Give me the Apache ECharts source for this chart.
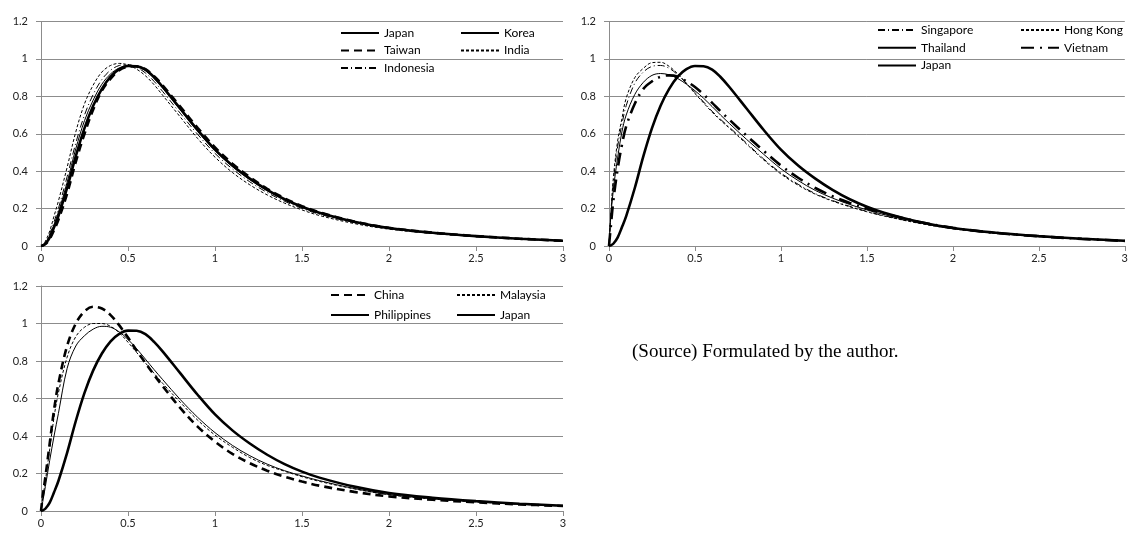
<!DOCTYPE html>
<html>
<head>
<meta charset="utf-8">
<script src="https://cdn.jsdelivr.net/npm/echarts@6/dist/echarts.min.js"></script>
<style>
html,body{margin:0;padding:0;background:#fff;}
#main{width:1131px;height:534px;}
</style>
</head>
<body>
<div id="main"></div>
<script>
// x grid shared by every curve (income relative to mean)
const xs = [0, 0.01, 0.025, 0.05, 0.075, 0.1, 0.15, 0.2, 0.25, 0.3, 0.35, 0.4, 0.45, 0.5, 0.55, 0.6, 0.65,
            0.7, 0.8, 0.9, 1.0, 1.1, 1.2, 1.3, 1.4, 1.5, 1.6, 1.8, 2.0, 2.25, 2.5, 2.75, 3.0];
const xTicks = [0, 0.5, 1, 1.5, 2, 2.5, 3];
const yTicks = [0, 0.2, 0.4, 0.6, 0.8, 1, 1.2];

// density values
const japan     = [0, 0.003, 0.012, 0.045, 0.10, 0.16, 0.31, 0.48, 0.63, 0.75, 0.84, 0.905, 0.945, 0.962, 0.961, 0.943, 0.902,
                   0.85, 0.735, 0.62, 0.515, 0.43, 0.36, 0.3, 0.25, 0.21, 0.178, 0.13, 0.096, 0.071, 0.053, 0.039, 0.028];
const korea     = [0, 0.004, 0.015, 0.055, 0.115, 0.18, 0.34, 0.52, 0.67, 0.78, 0.865, 0.92, 0.952, 0.965, 0.958, 0.938, 0.896,
                   0.843, 0.728, 0.613, 0.51, 0.425, 0.355, 0.296, 0.247, 0.207, 0.175, 0.128, 0.095, 0.07, 0.052, 0.038, 0.027];
const taiwan    = [0, 0.002, 0.01, 0.038, 0.085, 0.14, 0.28, 0.45, 0.6, 0.73, 0.83, 0.895, 0.94, 0.958, 0.96, 0.945, 0.907,
                   0.858, 0.745, 0.632, 0.527, 0.44, 0.368, 0.306, 0.255, 0.213, 0.18, 0.131, 0.097, 0.071, 0.053, 0.039, 0.028];
const india     = [0, 0.006, 0.025, 0.08, 0.16, 0.24, 0.42, 0.61, 0.76, 0.86, 0.93, 0.965, 0.976, 0.968, 0.945, 0.91, 0.862,
                   0.805, 0.69, 0.575, 0.475, 0.393, 0.327, 0.273, 0.229, 0.193, 0.163, 0.12, 0.09, 0.067, 0.05, 0.037, 0.027];
const indonesia = [0, 0.005, 0.02, 0.065, 0.13, 0.2, 0.37, 0.55, 0.7, 0.81, 0.89, 0.94, 0.965, 0.97, 0.955, 0.925, 0.88,
                   0.825, 0.71, 0.597, 0.495, 0.412, 0.343, 0.286, 0.239, 0.201, 0.17, 0.125, 0.093, 0.069, 0.051, 0.038, 0.027];

const singapore = [0, 0.15, 0.34, 0.53, 0.65, 0.75, 0.87, 0.93, 0.96, 0.965, 0.95, 0.915, 0.87, 0.82, 0.77, 0.72, 0.676,
                   0.635, 0.55, 0.465, 0.39, 0.33, 0.28, 0.243, 0.212, 0.185, 0.162, 0.123, 0.093, 0.068, 0.05, 0.037, 0.027];
const hongKong  = [0, 0.16, 0.36, 0.56, 0.68, 0.79, 0.9, 0.95, 0.98, 0.982, 0.96, 0.92, 0.87, 0.815, 0.765, 0.715, 0.671,
                   0.63, 0.545, 0.46, 0.385, 0.325, 0.277, 0.24, 0.21, 0.183, 0.16, 0.122, 0.092, 0.068, 0.05, 0.037, 0.027];
const thailand  = [0, 0.15, 0.3, 0.47, 0.61, 0.7, 0.81, 0.875, 0.912, 0.922, 0.915, 0.895, 0.865, 0.83, 0.79, 0.745, 0.699,
                   0.655, 0.57, 0.49, 0.413, 0.35, 0.297, 0.256, 0.222, 0.193, 0.168, 0.127, 0.095, 0.069, 0.051, 0.037, 0.027];
const vietnam   = [0, 0.1, 0.24, 0.41, 0.54, 0.64, 0.76, 0.84, 0.88, 0.905, 0.912, 0.905, 0.88, 0.85, 0.81, 0.765, 0.719,
                   0.675, 0.59, 0.508, 0.43, 0.365, 0.31, 0.266, 0.23, 0.2, 0.174, 0.13, 0.097, 0.07, 0.052, 0.038, 0.027];

const china       = [0, 0.08, 0.18, 0.36, 0.54, 0.68, 0.88, 1.0, 1.065, 1.089, 1.08, 1.045, 0.99, 0.925, 0.855, 0.79, 0.726,
                     0.665, 0.55, 0.45, 0.37, 0.305, 0.255, 0.215, 0.183, 0.157, 0.135, 0.102, 0.078, 0.06, 0.046, 0.035, 0.027];
const malaysia    = [0, 0.07, 0.16, 0.33, 0.5, 0.63, 0.82, 0.93, 0.98, 1.0, 1.0, 0.985, 0.95, 0.9, 0.845, 0.79, 0.734,
                     0.68, 0.58, 0.485, 0.405, 0.34, 0.285, 0.243, 0.212, 0.183, 0.158, 0.118, 0.087, 0.064, 0.048, 0.036, 0.027];
const philippines = [0, 0.05, 0.13, 0.27, 0.4, 0.52, 0.76, 0.88, 0.935, 0.97, 0.985, 0.98, 0.955, 0.915, 0.865, 0.81, 0.754,
                     0.7, 0.595, 0.5, 0.418, 0.35, 0.295, 0.25, 0.215, 0.187, 0.162, 0.12, 0.088, 0.065, 0.049, 0.036, 0.027];

const gridColor = '#8c8c8c';
const labelFont = 'Lato';

function pairs(ys) {
    return xs.map((x, i) => [x, ys[i]]);
}

// thick / thin and dash patterns like the Excel original
const styles = {
    solidThick: { width: 2.6, type: 'solid' },
    solidThin: { width: 1, type: 'solid' },
    dashThick: { width: 2.6, type: [8, 5] },
    dashThin: { width: 1, type: [3, 2] },
    dashDotThin: { width: 1, type: [7, 3, 1, 3] },
    longDashDot: { width: 2.6, type: [13, 6, 2, 6] },
};

function line(name, ys, idx, st) {
    return {
        name: name,
        type: 'line',
        xAxisIndex: idx,
        yAxisIndex: idx,
        data: pairs(ys),
        symbol: 'none',
        showSymbol: false,
        smooth: 0.35,
        silent: true,
        lineStyle: { color: '#000', width: st.width, type: st.type },
        itemStyle: { color: '#000' },
    };
}

let grids = [
    { left: 41, top: 21.5, width: 522, height: 224.5 },
    { left: 609, top: 21.5, width: 520, height: 224.5 },
    { left: 41, top: 286, width: 522, height: 225 },
];

let xAxes = [], yAxes = [];
for (let i = 0; i < 3; i++) {
    xAxes.push({
        type: 'value', gridIndex: i,
        min: xTicks[0], max: xTicks[xTicks.length - 1], interval: 0.5,
        axisLine: { show: true, lineStyle: { color: gridColor } },
        axisTick: { show: true, length: 5, lineStyle: { color: gridColor } },
        axisLabel: { color: '#222', fontFamily: labelFont, fontSize: 11, margin: 7 },
        splitLine: { show: false },
    });
    yAxes.push({
        type: 'value', gridIndex: i,
        min: yTicks[0], max: yTicks[yTicks.length - 1], interval: 0.2,
        axisLine: { show: true, lineStyle: { color: gridColor } },
        axisTick: { show: true, length: 5, lineStyle: { color: gridColor } },
        axisLabel: { color: '#222', fontFamily: labelFont, fontSize: 11, margin: 13 },
        splitLine: { show: true, lineStyle: { color: gridColor, width: 1 } },
    });
}

let series = [
    line('Japan', japan, 0, styles.solidThick),
    line('Korea', korea, 0, styles.solidThin),
    line('Taiwan', taiwan, 0, styles.dashThick),
    line('India', india, 0, styles.dashThin),
    line('Indonesia', indonesia, 0, styles.dashDotThin),

    line('Singapore', singapore, 1, styles.dashDotThin),
    line('Hong Kong', hongKong, 1, styles.dashThin),
    line('Thailand', thailand, 1, styles.solidThin),
    line('Vietnam', vietnam, 1, styles.longDashDot),
    line('Japan', japan, 1, styles.solidThick),

    line('China', china, 2, styles.dashThick),
    line('Malaysia', malaysia, 2, styles.dashThin),
    line('Philippines', philippines, 2, styles.solidThin),
    line('Japan', japan, 2, styles.solidThick),
];

function legendCol(names, left, top, gap) {
    return {
        orient: 'vertical', left: left, top: top,
        padding: 0, itemWidth: 38, itemHeight: 12, itemGap: gap,
        selectedMode: false,
        itemStyle: { opacity: 0 }, // hide the circle, keep only the line
        textStyle: { fontFamily: labelFont, fontSize: 12, color: '#000', lineHeight: 14 },
        data: names,
    };
}

let option = {
    animation: false,
    backgroundColor: '#fff',
    grid: grids,
    xAxis: xAxes,
    yAxis: yAxes,
    legend: [
        legendCol(['Japan', 'Taiwan', 'Indonesia'], 340, 26, 3.5),
        legendCol(['Korea', 'India'], 460, 26, 3.5),
        legendCol(['Singapore', 'Thailand', 'Japan'], 877, 23, 3.8),
        legendCol(['Hong Kong', 'Vietnam'], 1020, 23, 3.8),
        legendCol(['China', 'Philippines'], 330, 288, 6),
        legendCol(['Malaysia', 'Japan'], 456, 288, 6),
    ],
    graphic: [{
        type: 'text', left: 632, top: 343,
        style: { text: '(Source) Formulated by the author.', font: '19px "Liberation Serif"', fill: '#000' },
    }],
    series: series,
};

var myChart = echarts.init(document.getElementById('main'));
myChart.setOption(option);
</script>
</body>
</html>
